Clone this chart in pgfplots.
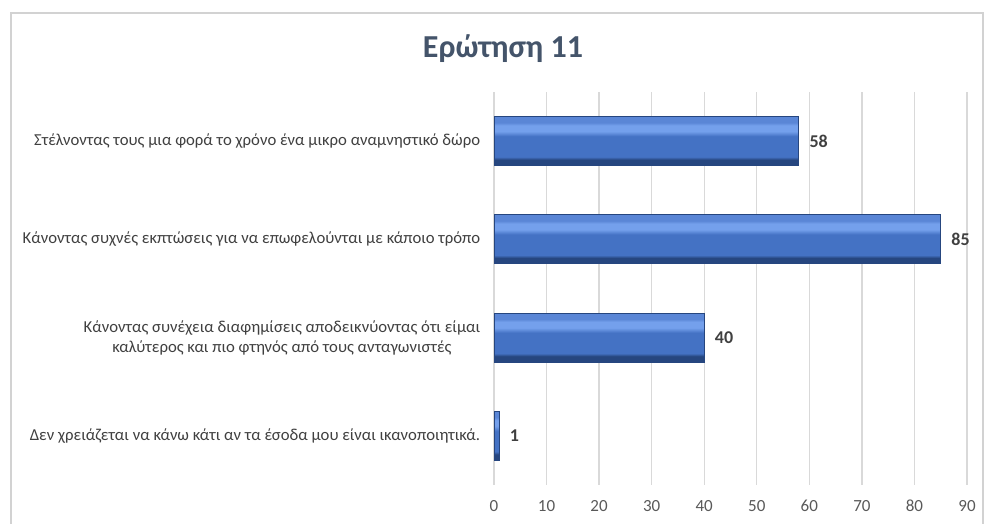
\documentclass[border=0pt]{standalone}
\usepackage{fontspec}
\setmainfont{Carlito}
\usepackage{pgfplots}
\pgfplotsset{compat=1.18}
\definecolor{bvdark}{HTML}{26467F}
\definecolor{bvmain}{HTML}{4472C4}
\definecolor{bvlight}{HTML}{74A0EC}
\definecolor{bvtop}{HTML}{5A86D6}
\definecolor{gridc}{HTML}{D9D9D9}
\definecolor{txt}{HTML}{404040}
\definecolor{tick}{HTML}{595959}
\definecolor{ttl}{HTML}{44546A}
\pgfdeclareverticalshading{bevel}{100bp}{color(0bp)=(bvdark); color(25bp)=(bvdark); color(31bp)=(bvdark); color(34bp)=(bvmain); color(55bp)=(bvmain); color(60bp)=(bvlight); color(66bp)=(bvlight); color(69bp)=(bvtop); color(75bp)=(bvtop); color(100bp)=(bvtop)}
\tikzset{barsty/.style={draw=bvdark, line width=0.8pt, shading=bevel}}
\begin{document}
\begin{tikzpicture}[x=1pt,y=1pt]
\useasboundingbox (0,0) rectangle (984,524);
\draw[gray!35, line width=1.2pt] (11,-5) -- (11,511) -- (983,511) -- (983,-5);
\node[font=\fontsize{32}{36}\selectfont\bfseries, text=ttl, anchor=base] at (503,466) {Ερώτηση 11};
\begin{axis}[
  at={(494pt,39pt)}, anchor=south west,
  scale only axis, width=473pt, height=393pt,
  xmin=0, xmax=90, ymin=-0.5, ymax=3.5,
  xtick={0,10,...,90},
  ytick={0,1,2,3},
  yticklabels={
    {Δεν χρειάζεται να κάνω κάτι αν τα έσοδα μου είναι ικανοποιητικά.},
    {Κάνοντας συνέχεια διαφημίσεις αποδεικνύοντας ότι είμαι\\καλύτερος και πιο φτηνός από τους ανταγωνιστές},
    {Κάνοντας συχνές εκπτώσεις για να επωφελούνται με κάποιο τρόπο},
    {Στέλνοντας τους μια φορά το χρόνο ένα μικρο αναμνηστικό δώρο}},
  yticklabel style={align=center, font=\fontsize{16.7}{20}\selectfont, text=txt, xshift=-6pt},
  xticklabel style={font=\fontsize{17}{20}\selectfont, text=tick, anchor=base, yshift=-27pt},
  /pgf/number format/assume math mode=true,
  axis line style={draw=none},
  major tick style={draw=none},
  xmajorgrids, grid style={gridc, line width=1.3pt},
  xbar, bar width=49pt, bar shift=0pt,
  nodes near coords,
  every node near coord/.append style={font=\fontsize{18}{20}\selectfont\bfseries, text=txt, anchor=west, xshift=7pt},
]
\addplot[barsty] coordinates {(1,0)};
\addplot[barsty] coordinates {(40,1)};
\addplot[barsty] coordinates {(85,2)};
\addplot[barsty] coordinates {(58,3)};
\end{axis}
\end{tikzpicture}
\end{document}
